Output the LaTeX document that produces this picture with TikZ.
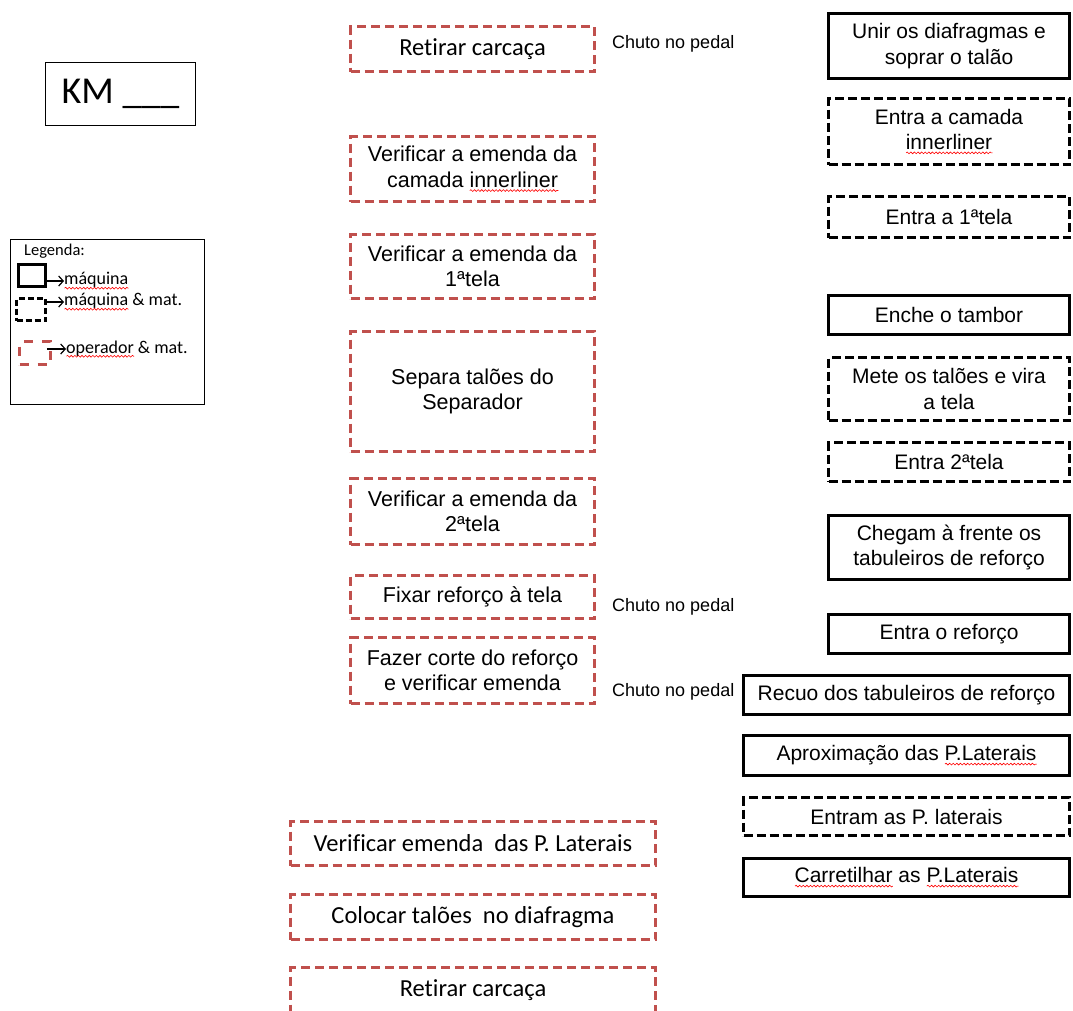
\documentclass[tikz,border=0pt]{standalone}
\usepackage{fontspec}
\usetikzlibrary{arrows.meta,decorations.pathmorphing}
\newfontfamily\arialf{Liberation Sans}
\newfontfamily\calif[Ligatures={NoCommon}]{Carlito}
\newsavebox\splbox
\newcommand\spl[1]{\sbox\splbox{#1}\rlap{\tikz[baseline=0pt]\draw[red, line width=0.6pt, solid, decorate, decoration={snake, amplitude=0.9pt, segment length=3.6pt}] (0pt,-3.2pt) -- (\the\wd\splbox,-3.2pt);}#1}
\definecolor{redbox}{RGB}{192,80,77}
\tikzset{
  base/.style={rectangle, inner sep=0pt, align=center, text=black},
  machine/.style={base, draw=black, line width=2.6pt, font=\arialf\fontsize{21}{25.5}\selectfont},
  machmat/.style={machine, dash pattern=on 9pt off 4pt},
  opmat/.style={base, draw=redbox, line width=2.8pt, dash pattern=on 9pt off 5pt, font=\arialf\fontsize{21.5}{25.5}\selectfont},
  opmatc/.style={opmat, font=\calif\fontsize{24.5}{29}\selectfont},
  midbox/.style={minimum width=244pt},
  botbox/.style={minimum width=365pt},
  rbox/.style={minimum width=241pt},
  lrbox/.style={minimum width=326pt},
  note/.style={font=\arialf\fontsize{18}{21}\selectfont, inner sep=0pt, anchor=west},
  legtext/.style={font=\calif\fontsize{18}{21}\selectfont, inner sep=0pt, anchor=west},
  legarrow/.style={-{Straight Barb[length=4.5pt,width=10pt,line width=1.2pt]}, line width=1.1pt, black},
}
\begin{document}
\begin{tikzpicture}[x=1pt,y=-1pt]
\useasboundingbox (0,0) rectangle (1073,1010);
% KM box
\node[base, draw=black, line width=1.5pt, minimum width=150pt, minimum height=63pt,
      font=\calif\fontsize{38}{44}\selectfont] (km) at (120.5,94) {KM \_\_\_};
% Legend
\node[base, draw=black, line width=1.5pt, minimum width=194pt, minimum height=165pt] (leg) at (107.5,322) {};
\node[legtext, font=\calif\fontsize{16.5}{20}\selectfont] (legt) at (24,251) {Legenda:};
\node[base, draw=black, line width=2.6pt, minimum width=27pt, minimum height=22pt] (ls) at (32,275.5) {};
\node[base, draw=black, line width=2.6pt, dash pattern=on 6pt off 3pt, minimum width=29pt, minimum height=22pt] (lm) at (31,309.5) {};
\node[base, draw=redbox, line width=2.8pt, dash pattern=on 9pt off 9pt, minimum width=31pt, minimum height=23pt] (lo) at (35,353) {};
\node[legtext] (t1) at (64,281) {\spl{máquina}};
\node[legtext] (t2) at (64,302) {\spl{máquina} \& mat.};
\node[legtext] (t3) at (66,349) {\spl{operador} \& mat.};
\draw[legarrow] (ls.east |- t1.west) -- (t1.west);
\draw[legarrow] (lm.east |- t2.west) -- (t2.west);
\draw[legarrow] ([xshift=-5pt]lo.east |- t3.west) -- (t3.west);
% Middle column
\node[opmatc, midbox, minimum height=45pt] (m1) at (472.5,49) {Retirar carcaça};
\node[opmat, midbox, minimum height=65pt] (m2) at (472.5,169) {Verificar a emenda da\\camada \spl{innerliner}};
\node[opmat, midbox, minimum height=64pt] (m3) at (472.5,266.5) {Verificar a emenda da\\1ªtela};
\node[opmat, midbox, minimum height=120pt] (m4) at (472.5,391.5) {Separa talões do\\Separador};
\node[opmat, midbox, minimum height=66pt] (m5) at (472.5,511.5) {Verificar a emenda da\\2ªtela};
\node[opmat, midbox, minimum height=43pt] (m6) at (472.5,597) {Fixar reforço à tela};
\node[opmat, midbox, minimum height=66pt] (m7) at (472.5,670.5) {Fazer corte do reforço\\e verificar emenda};
\node[note] (c1) at (612,44) {Chuto no pedal};
\node[note] (c2) at (612,607) {Chuto no pedal};
\node[note] (c3) at (612,692) {Chuto no pedal};
% Bottom column
\node[opmatc, botbox, minimum height=44pt] (b1) at (473,843.5) {Verificar emenda\ \ das P. Laterais};
\node[opmatc, botbox, minimum height=45pt] (b2) at (473,917) {Colocar talões\ \ no diafragma};
\node[opmatc, botbox, minimum height=45pt] (b3) at (473,990) {Retirar carcaça};
% Right column
\node[machine, rbox, minimum height=65pt] (r1) at (949,46) {Unir os diafragmas e\\soprar o talão};
\node[machmat, rbox, minimum height=66pt] (r2) at (949,131.5) {Entra a camada\\\spl{innerliner}};
\node[machmat, rbox, minimum height=41pt] (r3) at (949,217) {Entra a 1ªtela};
\node[machine, rbox, minimum height=39pt] (r4) at (949,315) {Enche o tambor};
\node[machmat, rbox, minimum height=63pt] (r5) at (949,389) {Mete os talões e vira\\a tela};
\node[machmat, rbox, minimum height=39pt] (r6) at (949,462) {Entra 2ªtela};
\node[machine, rbox, minimum height=64pt] (r7) at (949,547.5) {Chegam à frente os\\tabuleiros de reforço};
\node[machine, rbox, minimum height=39pt] (r8) at (949,634) {Entra o reforço};
\node[machine, lrbox, minimum height=39pt] (r9) at (906.5,695) {Recuo dos tabuleiros de reforço};
\node[machine, lrbox, minimum height=40pt] (r10) at (906.5,755.5) {Aproximação das \spl{P.Laterais}};
\node[machmat, lrbox, minimum height=38pt] (r11) at (906.5,816.5) {Entram as P. laterais};
\node[machine, lrbox, minimum height=38pt] (r12) at (906.5,877.5) {\spl{Carretilhar} as \spl{P.Laterais}};
\end{tikzpicture}
\end{document}
